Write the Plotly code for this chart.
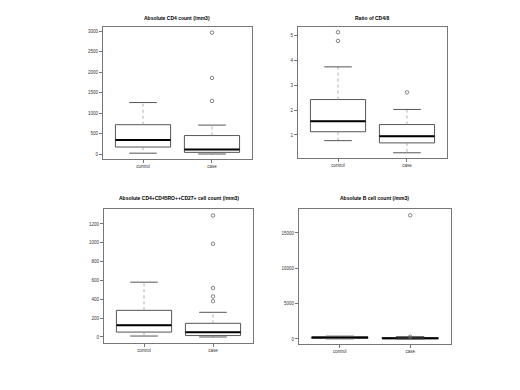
import plotly.graph_objects as go

groups = ["control", "case"]

titles = ["Absolute CD4 count (/mm3)", "Ratio of CD4/8",
          "Absolute CD4+CD45RO++CD27+ cell count (/mm3)", "Absolute B cell count (/mm3)"]

# per panel: [control, case] summary stats
cd4_low = [20, 0]; cd4_q1 = [170, 40]; cd4_med = [340, 110]; cd4_q3 = [715, 450]; cd4_high = [1255, 705]
cd4_out = [[], [2960, 1855, 1295]]

ratio_low = [0.77, 0.28]; ratio_q1 = [1.13, 0.68]; ratio_med = [1.55, 0.95]; ratio_q3 = [2.43, 1.42]; ratio_high = [3.75, 2.03]
ratio_out = [[5.15, 4.8], [2.72]]

mem_low = [10, 0]; mem_q1 = [52, 15]; mem_med = [125, 50]; mem_q3 = [283, 145]; mem_high = [582, 262]
mem_out = [[], [1290, 990, 520, 430, 380]]

b_low = [20, 0]; b_q1 = [100, 30]; b_med = [200, 90]; b_q3 = [290, 170]; b_high = [400, 330]
b_out = [[], [17500, 320]]

yticks = [[0, 500, 1000, 1500, 2000, 2500, 3000], [1, 2, 3, 4, 5],
          [0, 200, 400, 600, 800, 1000, 1200], [0, 5000, 10000, 15000]]
yranges = [[-122, 3098], [0.07, 5.36], [-64, 1359], [-708, 18396]]

panels = [
    (cd4_low, cd4_q1, cd4_med, cd4_q3, cd4_high, cd4_out),
    (ratio_low, ratio_q1, ratio_med, ratio_q3, ratio_high, ratio_out),
    (mem_low, mem_q1, mem_med, mem_q3, mem_high, mem_out),
    (b_low, b_q1, b_med, b_q3, b_high, b_out),
]

# the page body has an 8px default margin, domains compensate for it
xdomains = [[0.1827, 0.4692], [0.5577, 0.8442], [0.1846, 0.4712], [0.5596, 0.8519]]
ydomains = [[0.6128, 0.9513], [0.6154, 0.9513], [0.1410, 0.4846], [0.1385, 0.4846]]
title_y = [0.9756, 0.9756, 0.5128, 0.5128]

fig = go.Figure()
frame = "#777777"
boxc = "#555555"
bw = 0.8
for i, (lo, q1, med, q3, hi, outs) in enumerate(panels):
    xa = "x" if i == 0 else f"x{i+1}"
    ya = "y" if i == 0 else f"y{i+1}"
    for g in range(2):
        xc = g + 1
        fig.add_trace(go.Box(x=[xc], q1=[q1[g]], median=[med[g]], q3=[q3[g]],
                             lowerfence=[q1[g]], upperfence=[q3[g]], width=bw,
                             fillcolor="rgba(0,0,0,0)", line=dict(color=boxc, width=1),
                             whiskerwidth=0, showlegend=False, hoverinfo="skip",
                             xaxis=xa, yaxis=ya))
        # median
        fig.add_trace(go.Scatter(x=[xc - bw / 2, xc + bw / 2], y=[med[g], med[g]], mode="lines",
                                 line=dict(color="black", width=2), showlegend=False,
                                 hoverinfo="skip", xaxis=xa, yaxis=ya))
        # whiskers (dashed)
        fig.add_trace(go.Scatter(x=[xc, xc, None, xc, xc], y=[q3[g], hi[g], None, q1[g], lo[g]],
                                 mode="lines", line=dict(color="#999999", width=0.8, dash="dot"),
                                 showlegend=False, hoverinfo="skip", xaxis=xa, yaxis=ya))
        # caps
        fig.add_trace(go.Scatter(x=[xc - bw / 4, xc + bw / 4, None, xc - bw / 4, xc + bw / 4],
                                 y=[hi[g], hi[g], None, lo[g], lo[g]],
                                 mode="lines", line=dict(color=boxc, width=1),
                                 showlegend=False, hoverinfo="skip", xaxis=xa, yaxis=ya))
        if outs[g]:
            fig.add_trace(go.Scatter(x=[xc] * len(outs[g]), y=outs[g], mode="markers",
                                     marker=dict(symbol="circle-open", size=3.5, color="#666666",
                                                 line=dict(width=0.8)),
                                     showlegend=False, hoverinfo="skip", xaxis=xa, yaxis=ya))
    axkey = "xaxis" if i == 0 else f"xaxis{i+1}"
    aykey = "yaxis" if i == 0 else f"yaxis{i+1}"
    fig.update_layout(**{
        axkey: dict(domain=xdomains[i], anchor=ya, range=[0.42, 2.58], tickmode="array",
                    tickvals=[1, 2], ticktext=groups, ticks="outside", ticklen=3,
                    tickcolor=frame, tickwidth=0.8, showgrid=False, zeroline=False,
                    showline=True, linecolor=frame, linewidth=1, mirror=True,
                    tickfont=dict(size=4.5, family="Liberation Sans", color="#333333")),
        aykey: dict(domain=ydomains[i], anchor=xa, range=yranges[i], tickmode="array",
                    tickvals=yticks[i], ticktext=[str(v) for v in yticks[i]],
                    ticks="outside", ticklen=3, tickcolor=frame,
                    tickwidth=0.8, showgrid=False, zeroline=False, showline=True,
                    linecolor=frame, linewidth=1, mirror=True,
                    tickfont=dict(size=4.5, family="Liberation Sans", color="#333333")),
    })
    xd = xdomains[i]
    fig.add_annotation(text=f"<b>{titles[i]}</b>", x=(xd[0] + xd[1]) / 2,
                       y=title_y[i], xref="paper", yref="paper",
                       showarrow=False, xanchor="center", yanchor="middle",
                       font=dict(size=5, family="Liberation Sans", color="black"))

fig.update_layout(width=520, height=390, margin=dict(l=0, r=0, t=0, b=0),
                  paper_bgcolor="white", plot_bgcolor="white", showlegend=False)
fig.write_html("out.html")
